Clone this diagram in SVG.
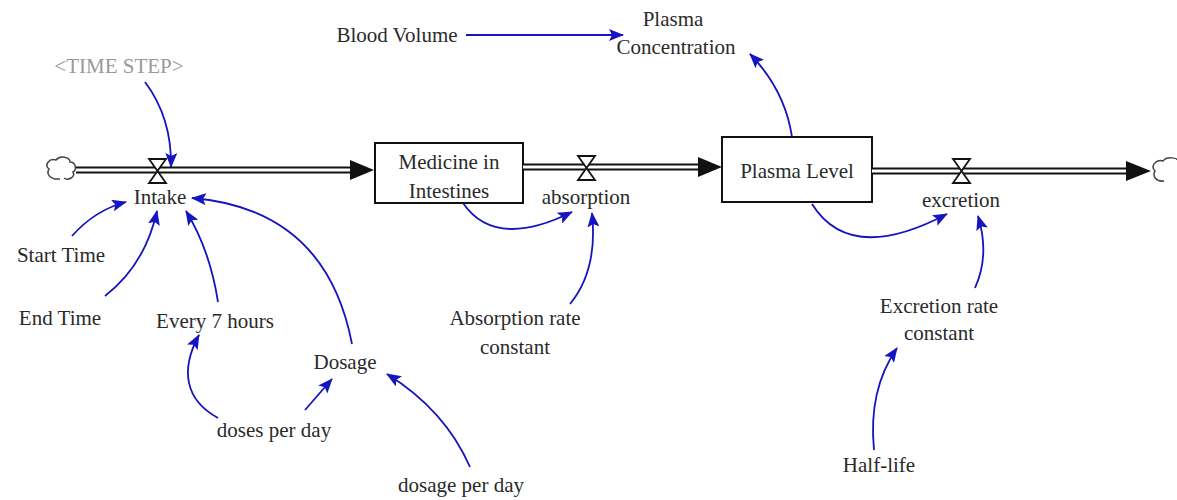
<svg xmlns="http://www.w3.org/2000/svg" width="1177" height="500" viewBox="0 0 1177 500">
<style>
text{font-family:"Liberation Serif","Times New Roman",serif;font-size:21px;fill:#2a2a2a;text-anchor:middle;dominant-baseline:central}
.gray{fill:#999}
.pipeO{stroke:#111;stroke-width:7;fill:none}
.pipeI{stroke:#fff;stroke-width:3;fill:none}
.stock{fill:#fff;stroke:#111;stroke-width:2}
.valve{fill:#fff;stroke:#111;stroke-width:1.8}
.cloud{fill:none;stroke:#444;stroke-width:1.5}
.link{fill:none;stroke:#1414c0;stroke-width:1.8;marker-end:url(#bh)}
.flowhead{fill:#111}
</style>
<defs>
<marker id="bh" markerUnits="userSpaceOnUse" markerWidth="16" markerHeight="12" refX="14" refY="6" orient="auto">
<path d="M0,0 L15,6 L0,12 L3,6 z" fill="#1414c0"/>
</marker>
</defs>
<rect width="1177" height="500" fill="#fff"/>
<g id="connectors">
<path class="link" d="M145,82 Q172,118 171,167"/>
<path class="link" d="M72,236 Q95,210 126,202"/>
<path class="link" d="M105,296 Q145,265 157,211"/>
<path class="link" d="M218,302 Q210,250 186,211"/>
<path class="link" d="M352,344 Q326,209 192,198"/>
<path class="link" d="M218,418 C185,400 180,370 199,335"/>
<path class="link" d="M305,410 L332,379"/>
<path class="link" d="M470,467 Q445,410 387,374"/>
<path class="link" d="M463,203 Q495,250 572,212"/>
<path class="link" d="M570,304 Q598,270 592,213"/>
<path class="link" d="M812,204 Q850,265 947,214"/>
<path class="link" d="M975,288 Q990,255 978,216"/>
<path class="link" d="M874,450 Q868,390 897,348"/>
<path class="link" d="M792,137 Q785,90 750,54"/>
<path class="link" d="M466,35 L623,35"/>
</g>
<g id="flow-intake">
<path class="pipeO" d="M76,170 H354"/>
<path class="pipeI" d="M76,170 H354"/>
<path class="flowhead" d="M350,160 L374,170 L350,180 z"/>
<path class="cloud" d="M60,179 C50,180 46,174 49,169 C44,165 49,158 56,160 C60,155 70,157 70,162 C76,162 77,170 73,172 C76,177 68,181 64,178"/>
<path class="valve" d="M149,159 H166 L157.5,171 L166,183 H149 L157.5,171 z"/>
<text x="160" y="197">Intake</text>
</g>
<g id="stock-medicine">
<rect class="stock" x="375" y="143" width="148" height="60"/>
<text x="449" y="162">Medicine in</text>
<text x="449" y="191">Intestines</text>
</g>
<g id="flow-absorption">
<path class="pipeO" d="M523,167 H702"/>
<path class="pipeI" d="M523,167 H702"/>
<path class="flowhead" d="M698,157 L722,167 L698,177 z"/>
<path class="valve" d="M578,156 H595 L586.5,168 L595,180 H578 L586.5,168 z"/>
<text x="586" y="197">absorption</text>
</g>
<g id="stock-plasma">
<rect class="stock" x="722" y="137" width="150" height="65"/>
<text x="797" y="171">Plasma Level</text>
</g>
<g id="flow-excretion">
<path class="pipeO" d="M872,171 H1130"/>
<path class="pipeI" d="M872,171 H1130"/>
<path class="flowhead" d="M1126,161 L1151,171 L1126,181 z"/>
<path class="cloud" d="M1164,181 C1156,182 1152,176 1155,171 C1150,166 1156,159 1163,161 C1167,156 1177,158 1177,160"/>
<path class="valve" d="M953,159 H970 L961.5,171 L970,183 H953 L961.5,171 z"/>
<text x="961" y="200">excretion</text>
</g>
<g id="var-timestep"><text class="gray" x="119" y="66">&lt;TIME STEP&gt;</text></g>
<g id="var-bloodvolume"><text x="397" y="35">Blood Volume</text></g>
<g id="var-plasmaconc"><text x="673" y="19">Plasma</text><text x="676" y="47">Concentration</text></g>
<g id="var-starttime"><text x="61" y="255">Start Time</text></g>
<g id="var-endtime"><text x="60" y="318">End Time</text></g>
<g id="var-every7"><text x="215" y="321">Every 7 hours</text></g>
<g id="var-dosage"><text x="345" y="362">Dosage</text></g>
<g id="var-dosesperday"><text x="274" y="430">doses per day</text></g>
<g id="var-dosageperday"><text x="461" y="485">dosage per day</text></g>
<g id="var-absrate"><text x="515" y="318">Absorption rate</text><text x="515" y="347">constant</text></g>
<g id="var-excrate"><text x="939" y="306">Excretion rate</text><text x="939" y="333">constant</text></g>
<g id="var-halflife"><text x="879" y="465">Half-life</text></g>
</svg>
